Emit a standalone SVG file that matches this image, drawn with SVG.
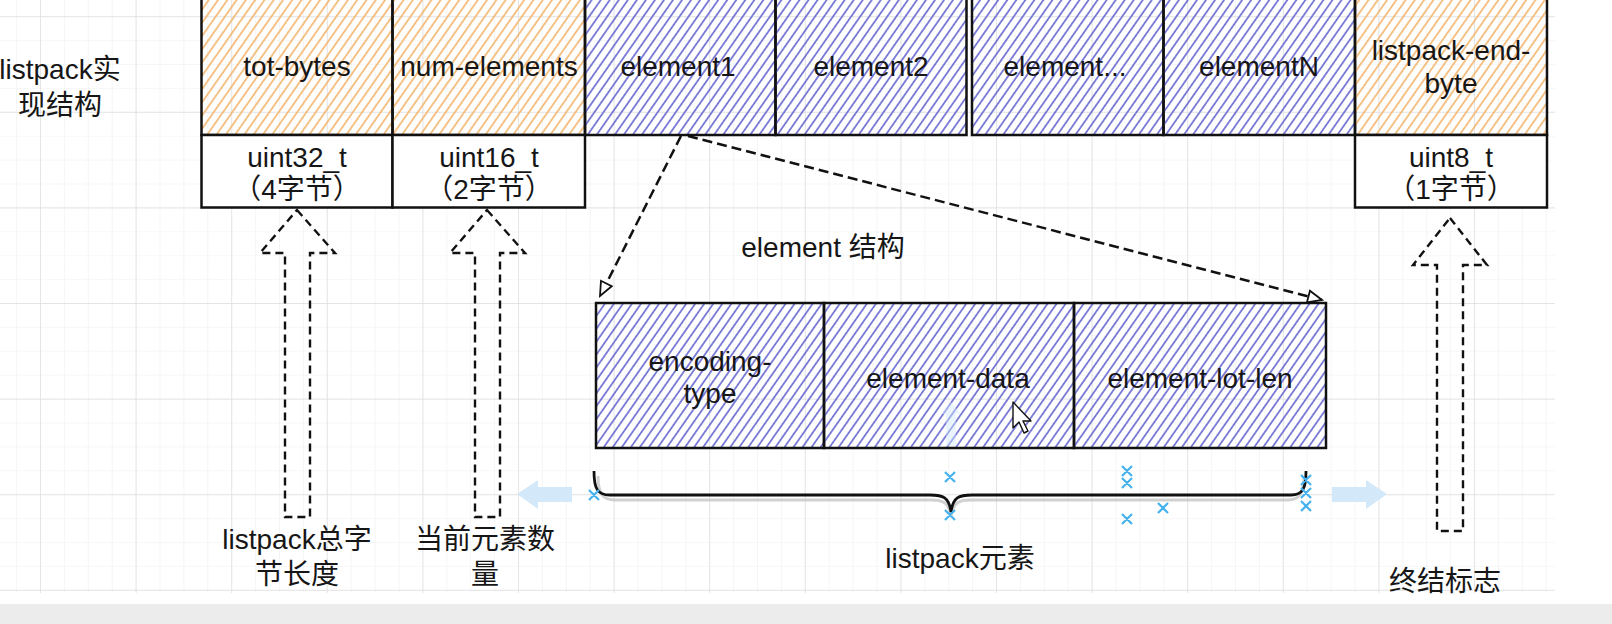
<svg xmlns="http://www.w3.org/2000/svg" width="1612" height="624" viewBox="0 0 1612 624">
  <defs>
    <pattern id="gridMinor" x="16.1" y="16.2" width="23.9" height="23.9" patternUnits="userSpaceOnUse">
      <path d="M0,0 V23.9 M0,0 H23.9" fill="none" stroke="#efefef" stroke-width="1.2"/>
    </pattern>
    <pattern id="gridMajor" x="40" y="16.2" width="95.6" height="95.6" patternUnits="userSpaceOnUse">
      <path d="M0,0 V95.6 M0,0 H95.6" fill="none" stroke="#dedede" stroke-width="1.4"/>
    </pattern>
    <pattern id="hatchO" width="10" height="7.6" patternUnits="userSpaceOnUse" patternTransform="rotate(-55)">
      <line x1="0" y1="3.8" x2="10" y2="3.8" stroke="#f4b46c" stroke-width="1.6"/>
    </pattern>
    <pattern id="hatchB" width="10" height="7.4" patternUnits="userSpaceOnUse" patternTransform="rotate(-55)">
      <line x1="0" y1="3.7" x2="10" y2="3.7" stroke="#7070d4" stroke-width="1.7"/>
    </pattern>
    <marker id="openTri" markerUnits="userSpaceOnUse" markerWidth="18" markerHeight="14" refX="14" refY="6" orient="auto" overflow="visible">
      <path d="M0,0 L14,6 L0,12 Z" fill="#ffffff" stroke="#111" stroke-width="1.8" stroke-dasharray="none"/>
    </marker>
    <style>
      .box { stroke: #111; stroke-width: 2.5; }
      .orange { fill: url(#hatchO); }
      .blue { fill: url(#hatchB); }
      .white { fill: #ffffff; }
      .lbl { font-family: "Liberation Sans", "Noto Sans CJK SC", sans-serif; font-size: 28px; fill: #161616; text-anchor: middle; }
      .dash { fill: none; stroke: #111; stroke-width: 2.5; stroke-dasharray: 10 5; }
      .blk { fill: none; stroke: #111; stroke-width: 2.4; stroke-dasharray: 8 5; }
      .xm { stroke: #45b2ee; stroke-width: 2.2; fill: none; }
      .hover { fill: #d3e9fa; }
    </style>
  </defs>

  <!-- background -->
  <rect x="0" y="0" width="1612" height="624" fill="#ffffff"/>
  <rect x="0" y="0" width="1555" height="593" fill="url(#gridMinor)"/>
  <rect x="0" y="0" width="1555" height="593" fill="url(#gridMajor)"/>
  <rect x="0" y="604" width="1612" height="20" fill="#ececec"/>

  <!-- left label -->
  <g id="label-impl">
    <text class="lbl" x="60" y="79">listpack实</text>
    <text class="lbl" x="60" y="115">现结构</text>
  </g>

  <!-- top row -->
  <g id="tot-bytes">
    <rect class="box orange" x="201.5" y="-4" width="191" height="139"/>
    <text class="lbl" x="297" y="76">tot-bytes</text>
  </g>
  <g id="num-elements">
    <rect class="box orange" x="392.5" y="-4" width="192.5" height="139"/>
    <text class="lbl" x="489" y="76">num-elements</text>
  </g>
  <g id="element1">
    <rect class="box blue" x="585" y="-4" width="190.5" height="139"/>
    <text class="lbl" x="678" y="76">element1</text>
  </g>
  <g id="element2">
    <rect class="box blue" x="775.5" y="-4" width="191" height="139"/>
    <text class="lbl" x="871" y="76">element2</text>
  </g>
  <g id="element-etc">
    <rect class="box blue" x="972" y="-4" width="191.5" height="139"/>
    <text class="lbl" x="1065" y="76">element...</text>
  </g>
  <g id="elementN">
    <rect class="box blue" x="1163.5" y="-4" width="191.5" height="139"/>
    <text class="lbl" x="1259" y="76">elementN</text>
  </g>
  <g id="end-byte">
    <rect class="box orange" x="1355" y="-4" width="192" height="139"/>
    <text class="lbl" x="1451" y="60">listpack-end-</text>
    <text class="lbl" x="1451" y="93">byte</text>
  </g>

  <!-- type boxes -->
  <g id="uint32">
    <rect class="box white" x="201.5" y="135" width="191" height="72.5"/>
    <text class="lbl" x="297" y="167">uint32_t</text>
    <text class="lbl" x="297" y="199">（4字节）</text>
  </g>
  <g id="uint16">
    <rect class="box white" x="392.5" y="135" width="192.5" height="72.5"/>
    <text class="lbl" x="489" y="167">uint16_t</text>
    <text class="lbl" x="489" y="199">（2字节）</text>
  </g>
  <g id="uint8">
    <rect class="box white" x="1355" y="135" width="192" height="72.5"/>
    <text class="lbl" x="1451" y="167">uint8_t</text>
    <text class="lbl" x="1451" y="199">（1字节）</text>
  </g>

  <!-- element structure -->
  <g id="element-title">
    <text class="lbl" x="823" y="257">element 结构</text>
  </g>
  <g id="encoding-type">
    <rect class="box blue" x="596" y="303" width="228" height="145"/>
    <text class="lbl" x="710" y="371">encoding-</text>
    <text class="lbl" x="710" y="403">type</text>
  </g>
  <g id="element-data">
    <rect class="box blue" x="824" y="303" width="250" height="145"/>
    <text class="lbl" x="948" y="388">element-data</text>
  </g>
  <g id="element-lot-len">
    <rect class="box blue" x="1074" y="303" width="252" height="145"/>
    <text class="lbl" x="1200" y="388">element-lot-len</text>
  </g>

  <!-- connectors -->
  <g id="connectors">
    <path class="dash" d="M681,136 L600,296" marker-end="url(#openTri)"/>
    <path class="dash" d="M688,136 L1322,300" stroke-width="3" marker-end="url(#openTri)"/>
    <path class="blk" d="M297,210 L335,253 L310,253 L310,517 L285,517 L285,253 L260,253 Z"/>
    <path class="blk" d="M487,210 L525,253 L500,253 L500,517 L475,517 L475,253 L450,253 Z"/>
    <path class="blk" d="M1450,218 L1487,265 L1463,265 L1463,531 L1437,531 L1437,265 L1413,265 Z"/>
    <!-- brace -->
    <path d="M598,476 C598,492 602,500 615,500 L930,500 C943,500 949,502 951,516 C953,502 959,500 972,500 L1288,500 C1300,500 1304,492 1304,476" fill="none" stroke="#bdbdbd" stroke-width="3" opacity="0.7"/>
    <path d="M594,471 C594,488 597,495 610,495 L930,495 C943,495 949,497 951,512 C953,497 959,495 972,495 L1291,495 C1303,495 1306,488 1306,471" fill="none" stroke="#111" stroke-width="2.8"/>
  </g>

  <!-- bottom labels -->
  <g id="label-total">
    <text class="lbl" x="297" y="549">listpack总字</text>
    <text class="lbl" x="297" y="584">节长度</text>
  </g>
  <g id="label-count">
    <text class="lbl" x="485" y="549">当前元素数</text>
    <text class="lbl" x="485" y="584">量</text>
  </g>
  <g id="label-elements">
    <text class="lbl" x="960" y="568">listpack元素</text>
  </g>
  <g id="label-end">
    <text class="lbl" x="1445" y="591">终结标志</text>
  </g>

  <!-- editor overlay marks -->
  <g id="overlay">
    <path class="hover" d="M517,494 L538,480 L538,487 L572,487 L572,502 L538,502 L538,509 Z"/>
    <path class="hover" d="M1387,494 L1366,480 L1366,487 L1332,487 L1332,502 L1366,502 L1366,509 Z"/>
    <path class="hover" d="M951,402 L961,414 L956,414 L956,446 L946,446 L946,414 L941,414 Z" opacity="0.45"/>
    <path class="xm" d="M589,490 l10,10 m0,-10 l-10,10 M945,472 l10,10 m0,-10 l-10,10 M945,510 l10,10 m0,-10 l-10,10 M1122,466 l10,10 m0,-10 l-10,10 M1122,478 l10,10 m0,-10 l-10,10 M1122,514 l10,10 m0,-10 l-10,10 M1158,503 l10,10 m0,-10 l-10,10 M1301,475 l10,10 m0,-10 l-10,10 M1301,488 l10,10 m0,-10 l-10,10 M1301,501 l10,10 m0,-10 l-10,10"/>
    <path d="M1013,402 L1013,428 L1019,422 L1024,433 L1028,431 L1023,421 L1031,421 Z" fill="#ffffff" stroke="#111" stroke-width="1.4" stroke-linejoin="round"/>
  </g>
</svg>
